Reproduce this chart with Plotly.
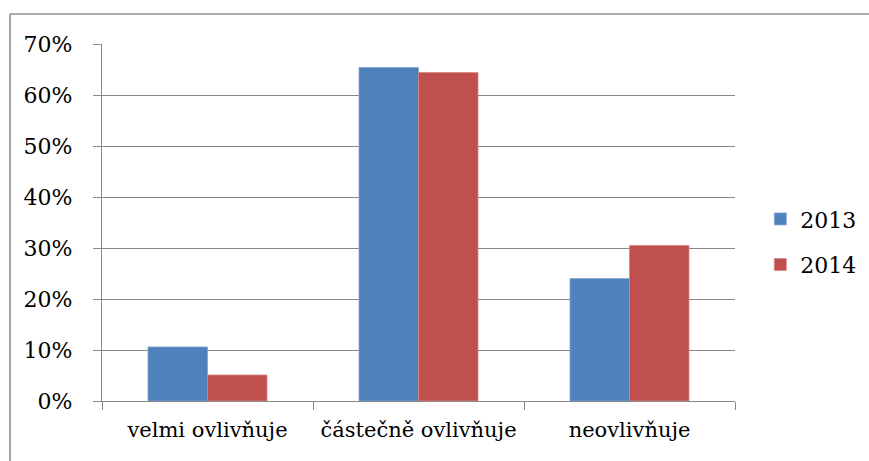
import plotly.graph_objects as go

categories = ["velmi ovlivňuje", "částečně ovlivňuje", "neovlivňuje"]
values_2013 = [10.6, 65.4, 24.0]
values_2014 = [5.1, 64.4, 30.5]
series_names = ["2013", "2014"]
y_ticks = [0, 10, 20, 30, 40, 50, 60, 70]

W, H = 869, 461
L, R, T, B = 102, 134, 44, 60
plot_w = W - L - R
plot_h = H - T - B

FONT = "DejaVu Serif"
GRID = "#8a8a8a"

fig = go.Figure()
for name, vals, color, line in [
    (series_names[0], values_2013, "#4F81BD", "#7fa3d1"),
    (series_names[1], values_2014, "#C0504D", "#d68583"),
]:
    fig.add_trace(go.Bar(
        x=categories, y=vals, name=name, legendgroup=name,
        marker=dict(color=color, line=dict(color=line, width=0.8)),
    ))

# outer chart frame (left and top edges visible)
fx0 = (10 - L) / plot_w
fy1 = 1 + (T - 14) / plot_h
fig.add_shape(type="line", xref="paper", yref="paper",
              x0=fx0, x1=fx0, y0=-1, y1=fy1,
              line=dict(color="#8f8f8f", width=1.6))
fig.add_shape(type="line", xref="paper", yref="paper",
              x0=fx0, x1=2, y0=fy1, y1=fy1,
              line=dict(color="#8f8f8f", width=1.6))

fig.update_layout(
    width=W, height=H,
    margin=dict(l=L, r=R, t=T, b=B, autoexpand=False),
    paper_bgcolor="white", plot_bgcolor="white",
    barmode="group", bargap=0.436, bargroupgap=0,
    font=dict(family=FONT, color="black", size=22),
    legend=dict(
        x=1.04, y=0.445, xanchor="left", yanchor="middle",
        font=dict(family=FONT, size=22, color="black"), traceorder="grouped",
        tracegroupgap=14, itemwidth=30, bgcolor="rgba(0,0,0,0)",
    ),
    showlegend=True,
)
fig.update_xaxes(
    type="category", tickson="boundaries", tickangle=0,
    ticks="outside", ticklen=8, tickcolor=GRID, tickwidth=1.3,
    showline=True, linecolor=GRID, linewidth=1.3,
    showgrid=False, ticklabelstandoff=10,
    tickfont=dict(family=FONT, size=21, color="black"),
)
fig.update_yaxes(
    range=[0, 70], tickvals=y_ticks,
    ticktext=[f"{v}%" for v in y_ticks],
    ticks="outside", ticklen=8, tickcolor=GRID, tickwidth=1.3,
    showline=True, linecolor=GRID, linewidth=1.3,
    showgrid=True, gridcolor=GRID, gridwidth=1.3,
    zeroline=False, ticklabelstandoff=16,
    tickfont=dict(family=FONT, size=22, color="black"),
)

fig.write_html("out.html")
